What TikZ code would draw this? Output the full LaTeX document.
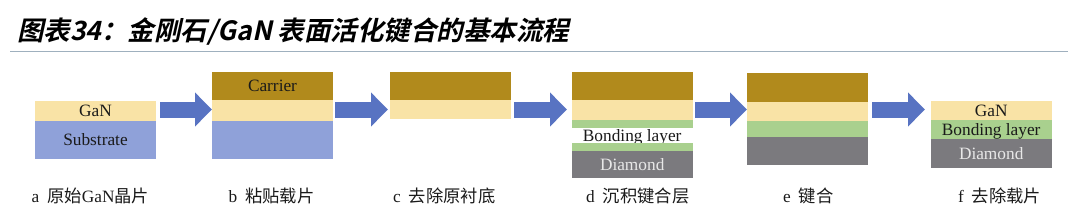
\documentclass[tikz,border=0pt]{standalone}
\usepackage{fontspec}
\setmainfont{Liberation Serif}
\newfontfamily\cjk{Noto Sans CJK SC}
\newfontfamily\titlefont[FakeSlant=0.22]{Noto Sans CJK SC Bold}
\usetikzlibrary{positioning,arrows.meta}
\definecolor{ganc}{HTML}{F9E3A6}
\definecolor{subc}{HTML}{8FA1D9}
\definecolor{carc}{HTML}{B18A1C}
\definecolor{bondc}{HTML}{A9D08E}
\definecolor{diac}{HTML}{7B7A7E}
\definecolor{arrc}{HTML}{5873C2}
\definecolor{rulec}{HTML}{9FB0BE}
\definecolor{txtc}{HTML}{1A1A1A}
\definecolor{diatxt}{HTML}{E8E8E8}
\begin{document}
\begin{tikzpicture}[x=1pt,y=-1pt,
  layer/.style={inner sep=0pt,outer sep=0pt,minimum width=121pt,
    text=txtc,font=\fontsize{17.3}{20}\selectfont,text height=11.4pt,text depth=0pt},
  toplayer/.style={layer,anchor=north west},
  stack/.style={layer,below=0pt of #1},
  diatext/.style={text=diatxt},
  bigarrow/.style={draw=arrc,line width=16pt,-{Triangle[width=33pt,length=17pt]}},
  steplabel/.style={anchor=base west,inner sep=0pt,text=txtc,font=\fontsize{17.3}{20}\selectfont},
  titletext/.style={anchor=base west,inner sep=0pt,text=black,font=\titlefont\fontsize{26.5}{30}\selectfont}
]
\useasboundingbox (0,0) rectangle (1080,220);
% title
\node[titletext] (title) at (17,40) {图表34：金刚石/GaN 表面活化键合的基本流程};
\coordinate (ruleL) at (10,51.3);
\coordinate (ruleR) at (1068,51.3);
\draw[rulec,line width=1.5pt] (ruleL) -- (ruleR);

% a
\node[toplayer,fill=ganc,minimum height=20pt] (aGaN) at (35,100.7) {GaN};
\node[stack=aGaN,fill=subc,minimum height=38.6pt] (aSub) {Substrate};
% b
\node[toplayer,fill=carc,minimum height=28.3pt] (bCar) at (212,71.7) {Carrier};
\node[stack=bCar,fill=ganc,minimum height=20.7pt] (bGaN) {};
\node[stack=bGaN,fill=subc,minimum height=38.6pt] (bSub) {};
% c
\node[toplayer,fill=carc,minimum height=28.3pt] (cCar) at (390,71.7) {};
\node[stack=cCar,fill=ganc,minimum height=19.3pt] (cGaN) {};
% d
\node[toplayer,fill=carc,minimum height=28.3pt] (dCar) at (571.7,71.7) {};
\node[stack=dCar,fill=ganc,minimum height=20pt] (dGaN) {};
\node[stack=dGaN,fill=bondc,minimum height=8.3pt,text height=0pt] (dBond1) {};
\node[stack=dBond1,minimum height=15pt] (dBondTxt) {Bonding layer};
\node[stack=dBondTxt,fill=bondc,minimum height=7.4pt,text height=0pt] (dBond2) {};
\node[stack=dBond2,fill=diac,minimum height=27.6pt,diatext] (dDia) {Diamond};
% e
\node[toplayer,fill=carc,minimum height=29pt] (eCar) at (746.7,72.7) {};
\node[stack=eCar,fill=ganc,minimum height=19.3pt] (eGaN) {};
\node[stack=eGaN,fill=bondc,minimum height=16.3pt] (eBond) {};
\node[stack=eBond,fill=diac,minimum height=27.7pt] (eDia) {};
% f
\node[toplayer,fill=ganc,minimum height=19.3pt] (fGaN) at (930.7,100.7) {GaN};
\node[stack=fGaN,fill=bondc,minimum height=19.3pt] (fBond) {Bonding layer};
\node[stack=fBond,fill=diac,minimum height=29pt,diatext] (fDia) {Diamond};

% arrows
\coordinate (s1) at (160,109.5);   \coordinate (e1) at (212,109.5);
\coordinate (s2) at (335,109.5);   \coordinate (e2) at (388,109.5);
\coordinate (s3) at (514,109.5);   \coordinate (e3) at (567,109.5);
\coordinate (s4) at (695,109.5);   \coordinate (e4) at (747,109.5);
\coordinate (s5) at (872,109.5);   \coordinate (e5) at (925,109.5);
\draw[bigarrow] (s1) -- (e1);
\draw[bigarrow] (s2) -- (e2);
\draw[bigarrow] (s3) -- (e3);
\draw[bigarrow] (s4) -- (e4);
\draw[bigarrow] (s5) -- (e5);

% step labels
\node[steplabel] (la) at (31.5,202) {a\hspace{8pt}{\cjk 原始}GaN{\cjk 晶片}};
\node[steplabel] (lb) at (228.5,202) {b\hspace{8pt}{\cjk 粘贴载片}};
\node[steplabel] (lc) at (393,202) {c\hspace{8pt}{\cjk 去除原衬底}};
\node[steplabel] (ld) at (586,202) {d\hspace{8pt}{\cjk 沉积键合层}};
\node[steplabel] (le) at (783,202) {e\hspace{8pt}{\cjk 键合}};
\node[steplabel] (lf) at (958,202) {f\hspace{8pt}{\cjk 去除载片}};
\end{tikzpicture}
\end{document}
